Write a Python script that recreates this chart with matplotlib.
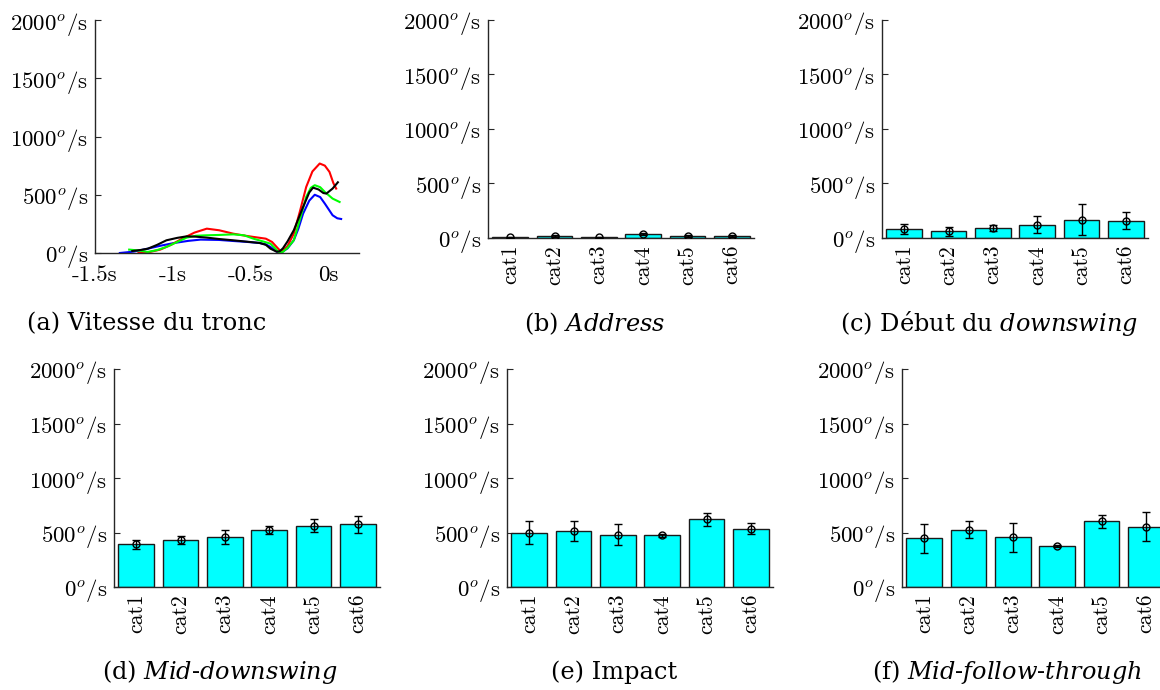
import numpy as np
import matplotlib
matplotlib.use("Agg")
import matplotlib.pyplot as plt

# ============================================================
# DATA
# ============================================================

categories = ["cat1", "cat2", "cat3", "cat4", "cat5", "cat6"]

# trunk speed curves (time in s, speed in deg/s)
t_blue = [-1.34, -1.25, -1.16, -1.08, -0.99, -0.90, -0.82, -0.70, -0.61, -0.52, -0.44, -0.40,
          -0.37, -0.33, -0.30, -0.26, -0.22, -0.19, -0.16, -0.12, -0.085, -0.05, -0.02, 0.03, 0.06, 0.085]
v_blue = [0, 12, 37, 62, 86, 104, 115, 112, 103, 95, 86, 74,
          52, 12, 4, 40, 109, 210, 338, 450, 500, 480, 424, 324, 298, 292]

t_red = [-1.22, -1.15, -1.08, -1.01, -0.95, -0.86, -0.78, -0.70, -0.61, -0.54, -0.48, -0.40,
         -0.36, -0.32, -0.30, -0.26, -0.22, -0.18, -0.14, -0.10, -0.053, -0.02, 0.01, 0.035, 0.053]
v_red = [0, 8, 29, 70, 115, 175, 209, 195, 166, 150, 138, 123,
         95, 37, 10, 60, 166, 360, 567, 700, 768, 750, 696, 600, 553]

t_green = [-1.28, -1.22, -1.16, -1.10, -1.04, -0.97, -0.91, -0.85, -0.78, -0.70, -0.61, -0.54,
           -0.48, -0.42, -0.37, -0.34, -0.315, -0.29, -0.26, -0.22, -0.18, -0.14, -0.11, -0.085,
           -0.05, -0.02, 0.03, 0.075]
v_green = [29, 22, 9, 25, 52, 95, 132, 148, 152, 155, 160, 152,
           123, 100, 80, 40, 3, 10, 45, 109, 290, 481, 560, 582,
           565, 524, 467, 438]

t_black = [-1.26, -1.21, -1.16, -1.10, -1.04, -0.97, -0.91, -0.85, -0.78, -0.70, -0.61, -0.52,
           -0.44, -0.40, -0.37, -0.33, -0.31, -0.29, -0.26, -0.22, -0.16, -0.12, -0.096, -0.06,
           -0.03, -0.01, 0.03, 0.064]
v_black = [17, 25, 37, 70, 109, 130, 143, 140, 132, 120, 109, 97,
           86, 70, 37, 11, 15, 40, 100, 195, 395, 520, 561, 545,
           515, 510, 553, 607]

# bar panels: means and standard deviations per category
address_mean = [6, 18, 6, 37, 18, 18]
address_std = [5, 8, 4, 10, 8, 8]

debut_mean = [85, 61, 95, 123, 169, 160]
debut_std = [48, 40, 28, 77, 141, 80]

mid_down_mean = [393, 432, 457, 527, 561, 577]
mid_down_std = [40, 40, 64, 37, 60, 78]

impact_mean = [497, 512, 481, 475, 620, 534]
impact_std = [104, 92, 95, 15, 58, 51]

mid_follow_mean = [445, 527, 457, 377, 601, 555]
mid_follow_std = [135, 80, 132, 8, 63, 137]

ytick_vals = [0, 500, 1000, 1500, 2000]
ytick_labels = [r"%d$^o$/s" % v for v in ytick_vals]

# ============================================================
# LAYOUT (pixels -> figure fractions)
# ============================================================

W, H = 1160, 690
fig = plt.figure(figsize=(W / 100, H / 100), dpi=100)

plt.rcParams["font.family"] = "cmr10"
plt.rcParams["mathtext.fontset"] = "cm"
plt.rcParams["axes.unicode_minus"] = False

TICK_FS = 16.5
CAT_FS = 15.5
CAP_FS = 17.3
SPINE_COL = "#262626"


def px_axes(left, top, right, bottom):
    return fig.add_axes([left / W, 1 - bottom / H, (right - left) / W, (bottom - top) / H])


def style_axes(ax):
    for side in ["top", "right"]:
        ax.spines[side].set_visible(False)
    for side in ["left", "bottom"]:
        ax.spines[side].set_color(SPINE_COL)
        ax.spines[side].set_linewidth(1.0)
    ax.set_ylim(0, 2000)
    ax.set_yticks(ytick_vals)
    ax.set_yticklabels(ytick_labels, fontsize=TICK_FS, family="cmr10")
    ax.tick_params(axis="y", direction="in", length=4, color=SPINE_COL, pad=5)
    ax.tick_params(axis="x", length=0, pad=5)


def bar_panel(ax, means, stds):
    x = np.arange(1, len(categories) + 1)
    ax.bar(x, means, width=0.8, color="#00ffff", edgecolor="#1a1a1a", linewidth=1.0, zorder=2)
    ax.errorbar(x, means, yerr=stds, fmt="o", color="black", mfc="none", ms=5,
                mew=1.0, elinewidth=1.0, capsize=3, capthick=1.0, zorder=3)
    ax.set_xlim(0.5, 6.5)
    style_axes(ax)
    ax.set_xticks(x)
    ax.set_xticklabels(categories, rotation=90, fontsize=CAT_FS, family="cmr10")


# (a) trunk speed
ax_a = px_axes(95, 20, 359, 253)
ax_a.plot(t_blue, v_blue, color="#0000ff", lw=1.5)
ax_a.plot(t_red, v_red, color="#ff0000", lw=1.5)
ax_a.plot(t_green, v_green, color="#00ff00", lw=1.5)
ax_a.plot(t_black, v_black, color="black", lw=1.5)
ax_a.set_xlim(-1.5, 0.2)
style_axes(ax_a)
ax_a.tick_params(axis="x", pad=9)
ax_a.set_xticks([-1.5, -1.0, -0.5, 0.0])
ax_a.set_xticklabels(["-1.5s", "-1s", "-0.5s", "0s"], fontsize=TICK_FS, family="cmr10")

# bar panels
ax_b = px_axes(488, 20, 754, 238)
bar_panel(ax_b, address_mean, address_std)

ax_c = px_axes(882, 20, 1148, 238)
bar_panel(ax_c, debut_mean, debut_std)

ax_d = px_axes(114, 369, 380, 587)
bar_panel(ax_d, mid_down_mean, mid_down_std)

ax_e = px_axes(507, 369, 773, 587)
bar_panel(ax_e, impact_mean, impact_std)

ax_f = px_axes(902, 369, 1168, 587)
bar_panel(ax_f, mid_follow_mean, mid_follow_std)

# captions
cap_kw = dict(fontsize=CAP_FS, family="DejaVu Serif", math_fontfamily="dejavuserif",
              ha="center", va="center")
fig.text(147 / W, 1 - 324 / H, "(a) Vitesse du tronc", **cap_kw)
fig.text(595 / W, 1 - 324 / H, r"(b) $\mathit{Address}$", **cap_kw)
fig.text(989 / W, 1 - 324 / H, r"(c) Début du $\mathit{downswing}$", **cap_kw)
fig.text(220 / W, 1 - 672 / H, r"(d) $\mathit{Mid}$-$\mathit{downswing}$", **cap_kw)
fig.text(614 / W, 1 - 672 / H, "(e) Impact", **cap_kw)
fig.text(1007 / W, 1 - 672 / H, r"(f) $\mathit{Mid}$-$\mathit{follow}$-$\mathit{through}$", **cap_kw)

fig.savefig("out.png", dpi=100)
